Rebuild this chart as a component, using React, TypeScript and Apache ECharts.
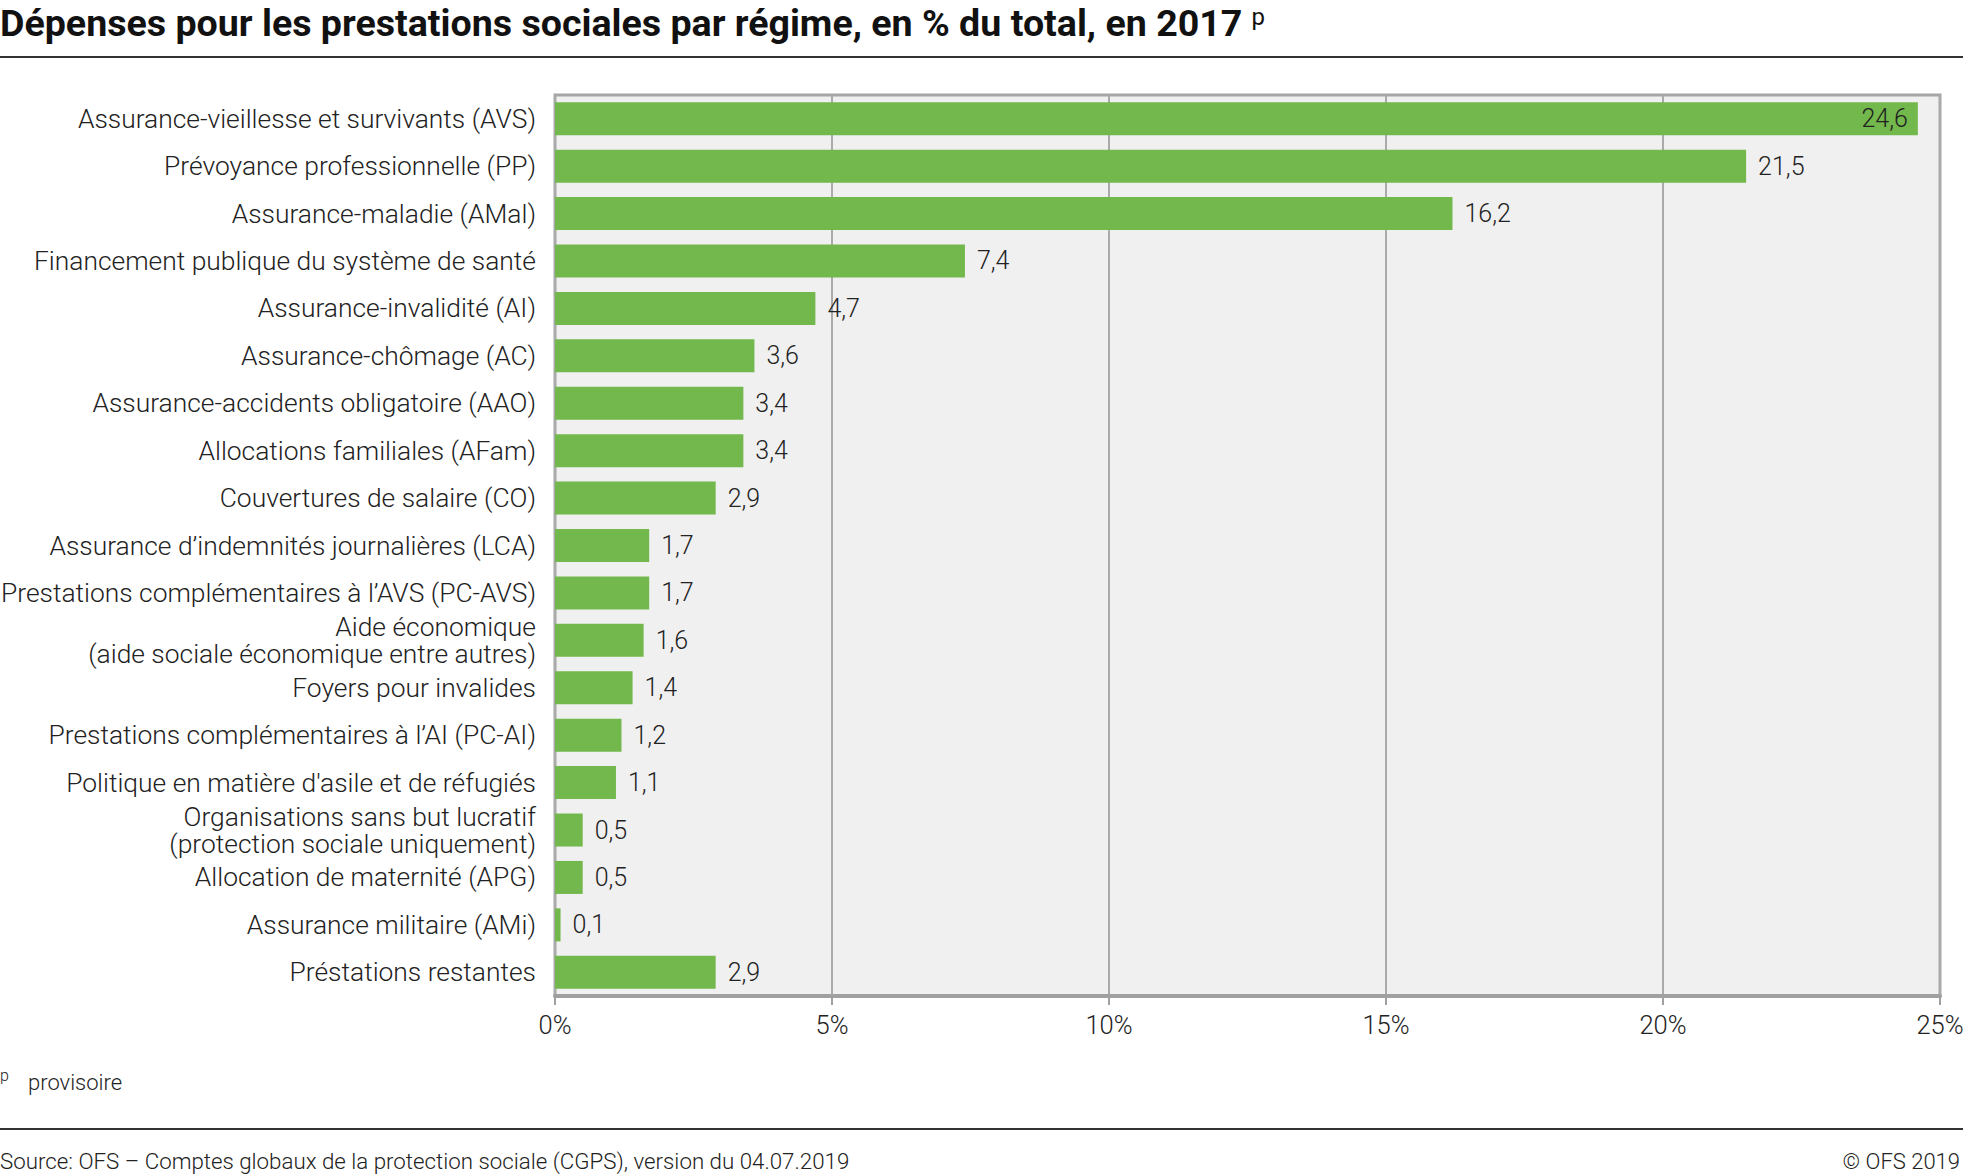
import React, { useEffect, useRef } from "react";
import * as echarts from "echarts";

const categories = [
  "Assurance-vieillesse et survivants (AVS)",
  "Prévoyance professionnelle (PP)",
  "Assurance-maladie (AMal)",
  "Financement publique du système de santé",
  "Assurance-invalidité (AI)",
  "Assurance-chômage (AC)",
  "Assurance-accidents obligatoire (AAO)",
  "Allocations familiales (AFam)",
  "Couvertures de salaire (CO)",
  "Assurance d’indemnités journalières (LCA)",
  "Prestations complémentaires à l’AVS (PC-AVS)",
  "Aide économique\n(aide sociale économique entre autres)",
  "Foyers pour invalides",
  "Prestations complémentaires à l’AI (PC-AI)",
  "Politique en matière d'asile et de réfugiés",
  "Organisations sans but lucratif\n(protection sociale uniquement)",
  "Allocation de maternité (APG)",
  "Assurance militaire (AMi)",
  "Préstations restantes",
];

const values = [24.6, 21.5, 16.2, 7.4, 4.7, 3.6, 3.4, 3.4, 2.9, 1.7, 1.7, 1.6, 1.4, 1.2, 1.1, 0.5, 0.5, 0.1, 2.9];

const xTicks = [0, 5, 10, 15, 20, 25];

const titleText = "Dépenses pour les prestations sociales par régime, en % du total, en 2017";
const footnote = "provisoire";
const sourceText = "Source: OFS – Comptes globaux de la protection sociale (CGPS), version du 04.07.2019";
const copyrightText = "© OFS 2019";

const FONT = "Roboto, 'Noto Sans', sans-serif";

export default function App() {
  const ref = useRef<HTMLDivElement>(null);
  useEffect(() => {
    if (!ref.current) return;
    const chart = echarts.init(ref.current, undefined, { renderer: "svg" });
    const fmt = (v: number) => v.toFixed(1).replace(".", ",");
    const maxVal = Math.max(...values);
    const data = values.map((v) =>
      v === maxVal
        ? { value: v, label: { position: "insideRight", distance: 10 } }
        : { value: v }
    );
    chart.setOption({
      animation: false,
      backgroundColor: "#ffffff",
      grid: {
        left: 555,
        right: 23,
        top: 95,
        bottom: 178,
        show: true,
        backgroundColor: "#f0f0f0",
        borderColor: "#a6a6a6",
        borderWidth: 3,
        containLabel: false,
        outerBoundsMode: "none",
      },
      xAxis: {
        type: "value",
        min: xTicks[0],
        max: xTicks[xTicks.length - 1],
        interval: xTicks[1] - xTicks[0],
        axisLine: { show: true, lineStyle: { color: "#a0a0a0", width: 4 } },
        axisTick: { show: true, length: 9, lineStyle: { color: "#a0a0a0", width: 2 } },
        splitLine: { show: true, lineStyle: { color: "#aaaaaa", width: 2 } },
        axisLabel: {
          formatter: "{value}%",
          margin: 16,
          fontSize: 25.5,
          fontFamily: FONT,
          fontWeight: 300,
          color: "#222222",
        },
      },
      yAxis: {
        type: "category",
        data: categories,
        inverse: true,
        axisLine: { show: false },
        axisTick: { show: false },
        axisLabel: {
          margin: 19,
          fontSize: 26.4,
          lineHeight: 27,
          fontFamily: FONT,
          fontWeight: 300,
          color: "#222222",
          align: "right",
        },
      },
      series: [
        {
          type: "bar",
          data,
          barWidth: 33,
          itemStyle: { color: "#72b84c" },
          label: {
            show: true,
            position: "right",
            distance: 12,
            formatter: (p: any) => fmt(p.value),
            fontSize: 25,
            fontFamily: FONT,
            fontWeight: 300,
            color: "#222222",
          },
        },
      ],
      graphic: [
        {
          type: "text",
          x: 0,
          y: 23,
          style: {
            text: "{t|" + titleText + "}{s|p}",
            rich: {
              t: { fontSize: 37.6, fontWeight: "bold", fontFamily: FONT, fill: "#111111", lineHeight: 42, verticalAlign: "middle" },
              s: { fontSize: 24, fontWeight: "normal", fontFamily: FONT, fill: "#111111", padding: [0, 0, 12, 9], verticalAlign: "middle" },
            },
            textVerticalAlign: "middle",
          },
        },
        {
          type: "line",
          shape: { x1: 0, y1: 57, x2: 1963, y2: 57 },
          style: { stroke: "#333333", lineWidth: 2 },
        },
        {
          type: "text",
          x: 0,
          y: 1075,
          style: { text: "p", fontSize: 16, fontFamily: FONT, fontWeight: 300, fill: "#222222", textVerticalAlign: "middle" },
        },
        {
          type: "text",
          x: 28,
          y: 1082,
          style: { text: footnote, fontSize: 22, fontFamily: FONT, fontWeight: 300, fill: "#222222", textVerticalAlign: "middle" },
        },
        {
          type: "line",
          shape: { x1: 0, y1: 1129, x2: 1963, y2: 1129 },
          style: { stroke: "#333333", lineWidth: 2 },
        },
        {
          type: "text",
          x: 0,
          y: 1161,
          style: { text: sourceText, fontSize: 22.3, fontFamily: FONT, fontWeight: 300, fill: "#222222", textVerticalAlign: "middle" },
        },
        {
          type: "text",
          x: 1960,
          y: 1161,
          style: { text: copyrightText, fontSize: 22, fontFamily: FONT, fontWeight: 300, fill: "#222222", textAlign: "right", textVerticalAlign: "middle" },
        },
      ],
    });
    return () => chart.dispose();
  }, []);
  return (
    <div
      ref={ref}
      style={{ position: "absolute", left: 0, top: 0, width: 1963, height: 1174 }}
    />
  );
}
